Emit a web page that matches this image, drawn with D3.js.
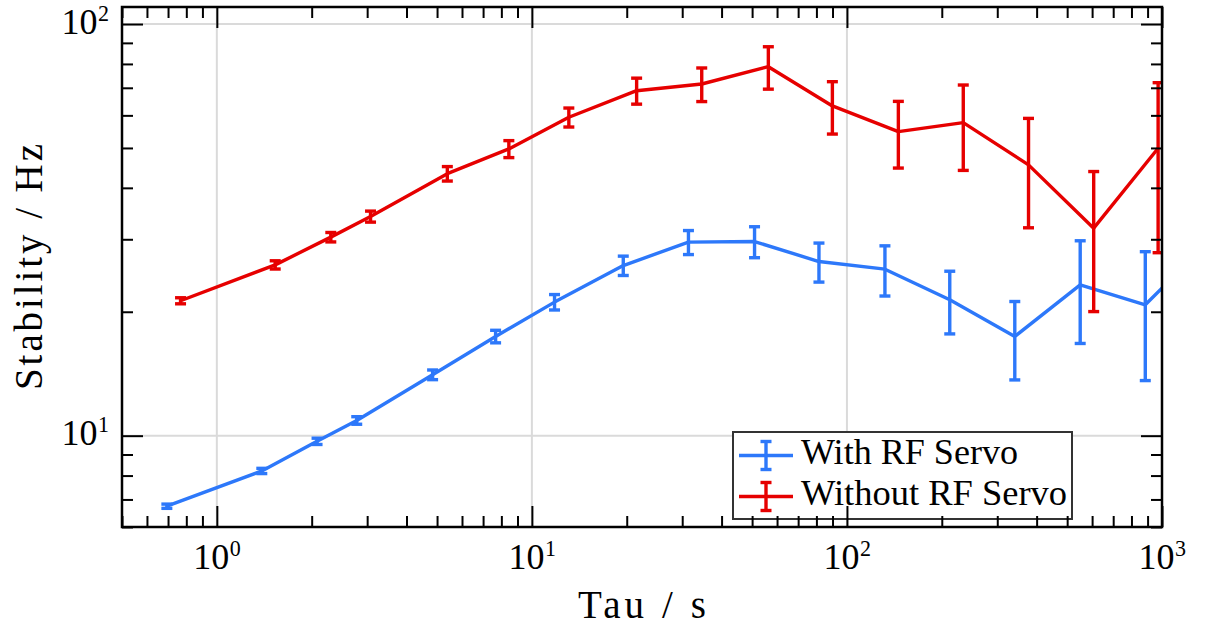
<!DOCTYPE html>
<html>
<head>
<meta charset="utf-8">
<script src="https://cdn.jsdelivr.net/npm/d3@7"></script>
<style>
html, body { margin: 0; padding: 0; background: #ffffff; }
svg { display: block; }
svg text { font-family: "Liberation Serif", "DejaVu Serif", "Times New Roman", serif; }
</style>
</head>
<body>
<svg id="chart" width="1205" height="630"></svg>
<script>
// ---------------- data ----------------
const tauWith   = [0.694, 1.389, 2.08, 2.78, 4.84, 7.67, 11.8, 19.5, 31.4, 50.9, 81.5, 132, 212, 341, 550, 885, 1430];
const stabWith  = [6.74, 8.21, 9.69, 10.89, 14.06, 17.42, 21.11, 25.9, 29.52, 29.62, 26.49, 25.38, 21.38, 17.42, 23.25, 20.8, 30.0];
const errWith   = [0.08, 0.12, 0.17, 0.23, 0.38, 0.61, 0.91, 1.40, 1.98, 2.56, 2.88, 3.54, 3.71, 3.76, 6.5, 7.19, 8.0];

const tauWithout  = [0.767, 1.532, 2.30, 3.075, 5.39, 8.45, 13.1, 21.5, 34.6, 56.3, 89.9, 145.6, 234, 377, 607, 972];
const stabWithout = [21.27, 26.0, 30.36, 34.07, 43.3, 49.73, 59.36, 68.88, 71.51, 78.77, 63.24, 54.78, 57.6, 45.49, 31.92, 49.93];
const errWithout  = [0.36, 0.6, 0.8, 1.05, 1.75, 2.36, 3.15, 5.0, 6.7, 9.3, 9.2, 10.1, 13.5, 13.5, 11.9, 22.1];

const seriesNames = ["With RF Servo", "Without RF Servo"];
const xMajorTicks = [1, 10, 100, 1000];
const tickBase = "10";
const xTickExponents = ["0", "1", "2", "3"];
const yMajorTicks = [10, 100];
const yTickExponents = ["1", "2"];
const xDomain = [0.5, 1000];
const yDomain = [6, 110];
const xTitle = "Tau / s";
const yTitle = "Stability / Hz";

// ---------------- styles / layout ----------------
const colors = ["#2d78fa", "#e60000"];
const M = { left: 122, right: 1162, top: 7, bottom: 527 };

const svg = d3.select("#chart");
const x = d3.scaleLog().domain(xDomain).range([M.left, M.right]);
const y = d3.scaleLog().domain(yDomain).range([M.bottom, M.top]);

const xMinor = [];
[0.1, 1, 10, 100].forEach(d => { for (let k = 2; k <= 9; k++) { const v = d * k; if (v >= xDomain[0] && v <= xDomain[1]) xMinor.push(v); } });
const yMinor = [];
[1, 10, 100].forEach(d => { for (let k = 2; k <= 9; k++) { const v = d * k; if (v >= yDomain[0] && v <= yDomain[1]) yMinor.push(v); } });

svg.append("defs").append("clipPath").attr("id", "plotclip")
  .append("rect").attr("x", M.left).attr("y", M.top)
  .attr("width", M.right - M.left).attr("height", M.bottom - M.top);

// grid
const grid = svg.append("g");
grid.selectAll("line.gx").data(xMajorTicks.filter(v => v < xDomain[1])).enter().append("line")
  .attr("x1", d => x(d)).attr("x2", d => x(d)).attr("y1", M.top).attr("y2", M.bottom)
  .attr("stroke", "#dadada").attr("stroke-width", 2);
grid.selectAll("line.gy").data(yMajorTicks).enter().append("line")
  .attr("y1", d => y(d)).attr("y2", d => y(d)).attr("x1", M.left).attr("x2", M.right)
  .attr("stroke", "#dadada").attr("stroke-width", 2);

// series
const series = [
  { tau: tauWith, val: stabWith, err: errWith, color: colors[0] },
  { tau: tauWithout, val: stabWithout, err: errWithout, color: colors[1] }
];
const plot = svg.append("g").attr("clip-path", "url(#plotclip)");
const line = d3.line().x(d => x(d.t)).y(d => y(d.v));
const CAP = 5.5, LW = 3.4;
series.forEach(s => {
  const pts = s.tau.map((t, i) => ({ t, v: s.val[i], e: s.err[i] }));
  plot.append("path").datum(pts).attr("d", line)
    .attr("fill", "none").attr("stroke", s.color).attr("stroke-width", LW)
    .attr("stroke-linejoin", "round");
  const eb = plot.append("g").attr("stroke", s.color).attr("stroke-width", LW);
  eb.selectAll("line.v").data(pts).enter().append("line")
    .attr("x1", d => x(d.t)).attr("x2", d => x(d.t))
    .attr("y1", d => y(d.v + d.e)).attr("y2", d => y(d.v - d.e));
  eb.selectAll("line.ct").data(pts).enter().append("line")
    .attr("x1", d => x(d.t) - CAP).attr("x2", d => x(d.t) + CAP)
    .attr("y1", d => y(d.v + d.e)).attr("y2", d => y(d.v + d.e));
  eb.selectAll("line.cb").data(pts).enter().append("line")
    .attr("x1", d => x(d.t) - CAP).attr("x2", d => x(d.t) + CAP)
    .attr("y1", d => y(d.v - d.e)).attr("y2", d => y(d.v - d.e));
});

// legend
const lg = svg.append("g");
lg.append("rect").attr("x", 733).attr("y", 432).attr("width", 339).attr("height", 87)
  .attr("fill", "#ffffff").attr("stroke", "#333333").attr("stroke-width", 2);
const legendWidths = [217, 266];
seriesNames.forEach((name, i) => {
  const cy = 455.5 + i * 41;
  const g = lg.append("g").attr("stroke", colors[i]).attr("stroke-width", LW);
  g.append("line").attr("x1", 739).attr("x2", 793).attr("y1", cy).attr("y2", cy);
  g.append("line").attr("x1", 766).attr("x2", 766).attr("y1", cy - 14).attr("y2", cy + 14);
  g.append("line").attr("x1", 766 - CAP).attr("x2", 766 + CAP).attr("y1", cy - 14).attr("y2", cy - 14);
  g.append("line").attr("x1", 766 - CAP).attr("x2", 766 + CAP).attr("y1", cy + 14).attr("y2", cy + 14);
  lg.append("text").attr("x", 801).attr("y", cy + 8.2)
    .attr("font-size", 35).attr("fill", "#000")
    .attr("textLength", legendWidths[i]).attr("lengthAdjust", "spacingAndGlyphs")
    .text(name);
});

// axes ticks (inward, all four sides)
function styleAxis(g) {
  g.select(".domain").remove();
  g.selectAll(".tick line").attr("stroke", "#000").attr("stroke-width", 2);
  g.selectAll(".tick text").remove();
}
const MAJ = 21, MIN = 11;
svg.append("g").attr("transform", `translate(0,${M.bottom})`)
  .call(d3.axisBottom(x).tickValues(xMajorTicks).tickSize(-MAJ).tickFormat("")).call(styleAxis);
svg.append("g").attr("transform", `translate(0,${M.bottom})`)
  .call(d3.axisBottom(x).tickValues(xMinor).tickSize(-MIN).tickFormat("")).call(styleAxis);
svg.append("g").attr("transform", `translate(0,${M.top})`)
  .call(d3.axisTop(x).tickValues(xMajorTicks).tickSize(-MAJ).tickFormat("")).call(styleAxis);
svg.append("g").attr("transform", `translate(0,${M.top})`)
  .call(d3.axisTop(x).tickValues(xMinor).tickSize(-MIN).tickFormat("")).call(styleAxis);
svg.append("g").attr("transform", `translate(${M.left},0)`)
  .call(d3.axisLeft(y).tickValues(yMajorTicks).tickSize(-MAJ).tickFormat("")).call(styleAxis);
svg.append("g").attr("transform", `translate(${M.left},0)`)
  .call(d3.axisLeft(y).tickValues(yMinor).tickSize(-MIN).tickFormat("")).call(styleAxis);
svg.append("g").attr("transform", `translate(${M.right},0)`)
  .call(d3.axisRight(y).tickValues(yMajorTicks).tickSize(-MAJ).tickFormat("")).call(styleAxis);
svg.append("g").attr("transform", `translate(${M.right},0)`)
  .call(d3.axisRight(y).tickValues(yMinor).tickSize(-MIN).tickFormat("")).call(styleAxis);

// frame
svg.append("rect").attr("x", M.left).attr("y", M.top)
  .attr("width", M.right - M.left).attr("height", M.bottom - M.top)
  .attr("fill", "none").attr("stroke", "#000").attr("stroke-width", 2.5);

// tick labels: "10" + superscript exponent
function tickLabel(xPos, yPos, anchor, exp) {
  const baseW = 36, supW = 11;
  const g = svg.append("g");
  const left = anchor === "middle" ? xPos - (baseW + supW) / 2 : xPos - (baseW + supW);
  g.append("text").attr("x", left).attr("y", yPos)
    .attr("font-size", 35).attr("fill", "#000")
    .attr("textLength", baseW).attr("lengthAdjust", "spacingAndGlyphs").text(tickBase);
  g.append("text").attr("x", left + baseW + 0.5).attr("y", yPos - 13)
    .attr("font-size", 24).attr("fill", "#000")
    .attr("textLength", supW).attr("lengthAdjust", "spacingAndGlyphs").text(exp);
}
xMajorTicks.forEach((v, i) => tickLabel(x(v), 569, "middle", xTickExponents[i]));
yMajorTicks.forEach((v, i) => tickLabel(108.5, y(v) + 9.5, "end", yTickExponents[i]));

// axis titles
svg.append("text").attr("x", (M.left + M.right) / 2).attr("y", 617.5)
  .attr("text-anchor", "middle").attr("font-size", 39).attr("fill", "#000")
  .attr("textLength", 128).attr("lengthAdjust", "spacing")
  .text(xTitle);
svg.append("text").attr("transform", `translate(41.5,${(M.top + M.bottom) / 2}) rotate(-90)`)
  .attr("text-anchor", "middle").attr("font-size", 39).attr("fill", "#000")
  .attr("textLength", 246).attr("lengthAdjust", "spacing")
  .text(yTitle);
</script>
</body>
</html>
